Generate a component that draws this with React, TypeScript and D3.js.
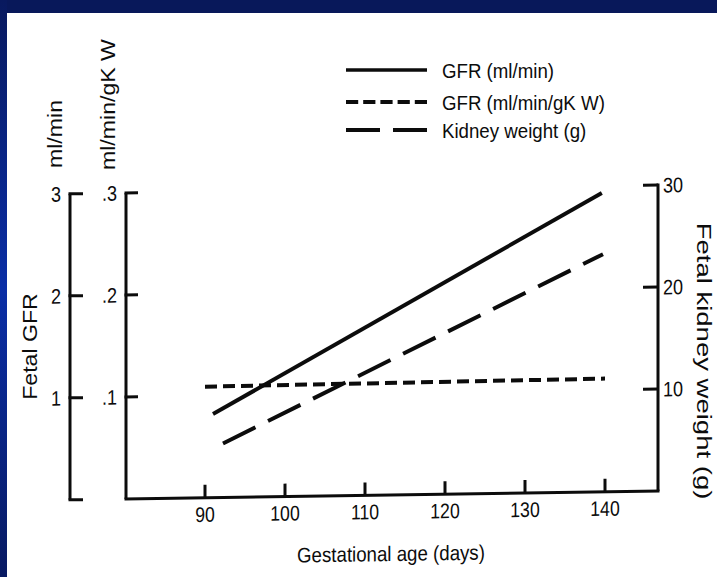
import React from "react";
import * as d3 from "d3";

// Gestational age (days) at the ends of each fitted line
const gfrDays = [91, 139.6];
const gfrValues = [0.82, 2.93]; // ml/min

const gfrPerKwDays = [90, 140];
const gfrPerKwValues = [0.109, 0.111]; // ml/min/gK W

const kidneyDays = [92.25, 139.75];
const kidneyValues = [5.3, 23.3]; // g

const xTicks = [90, 100, 110, 120, 130, 140];
const gfrTicks = [0, 1, 2, 3];
const gfrTickLabels = ["", "1", "2", "3"];
const gfrKwTicks = [0.1, 0.2, 0.3];
const gfrKwTickLabels = [".1", ".2", ".3"];
const kidneyTicks = [10, 20, 30];
const kidneyTickLabels = ["10", "20", "30"];

const legendLabels = ["GFR (ml/min)", "GFR (ml/min/gK W)", "Kidney weight (g)"];

const W = 717;
const H = 577;
const INK = "#0c0c0c";
const FONT = "'Liberation Sans', Arial, Helvetica, sans-serif";

const SOLID = "none";
const SHORT_DASH = "12 6";
const LONG_DASH = "36 14";

type LabelProps = {
  x: number;
  y: number;
  size?: number;
  sx?: number;
  rot?: number;
  anchor?: "start" | "middle" | "end";
  children: React.ReactNode;
};

function Label({ x, y, size = 21, sx = 1, rot = 0, anchor = "start", children }: LabelProps) {
  return (
    <text
      transform={`translate(${x},${y}) rotate(${rot}) scale(${sx},1)`}
      textAnchor={anchor}
      fontFamily={FONT}
      fontSize={size}
      fill={INK}
    >
      {children}
    </text>
  );
}

export default function App() {
  const x = d3.scaleLinear().domain([90, 140]).range([205, 605]);
  const yGfr = d3.scaleLinear().domain([0, 3]).range([499, 193]);
  const yGfrKw = d3.scaleLinear().domain([0, 0.3]).range([499, 193]);
  const yKidney = d3.scaleLinear().domain([0, 30]).range([499, 193]);

  const lineOf = (days: number[], vals: number[], y: d3.ScaleLinear<number, number>) =>
    d3
      .line<number>()
      .x((_, i) => x(days[i]))
      .y((v) => y(v))(vals) as string;

  const axisLeftX = 70;
  const axisMidX = 126;
  const axisRightX = 658;
  const baseY = yGfr(0);
  const topY = yGfr(3);

  const series = [
    { d: lineOf(gfrDays, gfrValues, yGfr), dash: SOLID },
    { d: lineOf(gfrPerKwDays, gfrPerKwValues, yGfrKw), dash: SHORT_DASH },
    { d: lineOf(kidneyDays, kidneyValues, yKidney), dash: LONG_DASH },
  ];

  const legendDash = [SOLID, "12.2 5", "34 13"];
  const legendRows = [70, 102, 130];

  return (
    <svg
      width={W}
      height={H}
      viewBox={`0 0 ${W} ${H}`}
      style={{ position: "absolute", left: 0, top: 0, display: "block" }}
    >
      <defs>
        <linearGradient id="sideBand" x1="0" y1="0" x2="0" y2="1">
          <stop offset="0" stopColor="#08195e" />
          <stop offset="0.5" stopColor="#0a2ea6" />
          <stop offset="1" stopColor="#081a62" />
        </linearGradient>
      </defs>
      <rect x={0} y={0} width={W} height={H} fill="#ffffff" />
      <rect x={0} y={0} width={W} height={13} fill="#08185a" />
      <rect x={0} y={0} width={7} height={H} fill="url(#sideBand)" />

      {/* plot body, slightly sheared like the printed figure */}
      <g transform={`translate(${axisMidX},${baseY}) skewY(-0.86) translate(${-axisMidX},${-baseY})`}>
        {/* ml/min bracket axis */}
        <line x1={axisLeftX} x2={axisLeftX} y1={topY} y2={baseY} stroke={INK} strokeWidth={3} />
        {gfrTicks.map((t, i) => (
          <g key={`g${t}`}>
            <line x1={axisLeftX - 1.5} x2={axisLeftX + 13} y1={yGfr(t)} y2={yGfr(t)} stroke={INK} strokeWidth={3} />
            {gfrTickLabels[i] && (
              <Label x={61} y={yGfr(t) + 7.5} sx={0.86} anchor="end">
                {gfrTickLabels[i]}
              </Label>
            )}
          </g>
        ))}

        {/* ml/min/gK W axis */}
        <line x1={axisMidX} x2={axisMidX} y1={topY} y2={baseY} stroke={INK} strokeWidth={3} />
        {gfrKwTicks.map((t, i) => (
          <g key={`k${t}`}>
            <line x1={axisMidX - 1.5} x2={axisMidX + 12} y1={yGfrKw(t)} y2={yGfrKw(t)} stroke={INK} strokeWidth={3} />
            <Label x={117} y={yGfrKw(t) + 7.5} sx={0.86} anchor="end">
              {gfrKwTickLabels[i]}
            </Label>
          </g>
        ))}

        {/* gestational age axis */}
        <line x1={axisMidX - 1.5} x2={axisRightX + 1.5} y1={baseY} y2={baseY} stroke={INK} strokeWidth={3} />
        {xTicks.map((t) => (
          <g key={`x${t}`}>
            <line x1={x(t)} x2={x(t)} y1={baseY} y2={baseY - 13} stroke={INK} strokeWidth={3} />
            <Label x={x(t)} y={523} sx={0.84} anchor="middle">
              {t}
            </Label>
          </g>
        ))}
        <Label x={391} y={565} sx={0.89} anchor="middle">
          Gestational age (days)
        </Label>

        {/* kidney weight axis */}
        <line x1={axisRightX} x2={axisRightX} y1={topY - 1.5} y2={baseY} stroke={INK} strokeWidth={3} />
        {kidneyTicks.map((t, i) => (
          <g key={`w${t}`}>
            <line x1={axisRightX - 15} x2={axisRightX} y1={yKidney(t)} y2={yKidney(t)} stroke={INK} strokeWidth={3} />
            <Label x={663} y={yKidney(t) + 7.5} sx={0.86} anchor="start">
              {kidneyTickLabels[i]}
            </Label>
          </g>
        ))}

        {series.map((s, i) => (
          <path
            key={i}
            d={s.d}
            fill="none"
            stroke={INK}
            strokeWidth={4}
            strokeDasharray={s.dash}
            strokeLinecap="butt"
          />
        ))}
      </g>

      {/* axis titles */}
      <Label x={61.5} y={168} rot={-90} sx={1.1}>
        ml/min
      </Label>
      <Label x={115} y={170} rot={-90} sx={1.1}>
        ml/min/gK W
      </Label>
      <Label x={37} y={346.5} rot={-90} sx={1.1} anchor="middle">
        Fetal GFR
      </Label>
      <Label x={697} y={361} rot={90} size={21} sx={1.31} anchor="middle">
        Fetal kidney weight (g)
      </Label>

      {/* legend */}
      {legendLabels.map((lab, i) => (
        <g key={lab}>
          <line
            x1={346}
            x2={427}
            y1={legendRows[i]}
            y2={legendRows[i]}
            stroke={INK}
            strokeWidth={i === 0 ? 3.5 : 4}
            strokeDasharray={legendDash[i]}
          />
          <Label x={442} y={legendRows[i] + 7.5} sx={0.89}>
            {lab}
          </Label>
        </g>
      ))}
    </svg>
  );
}
